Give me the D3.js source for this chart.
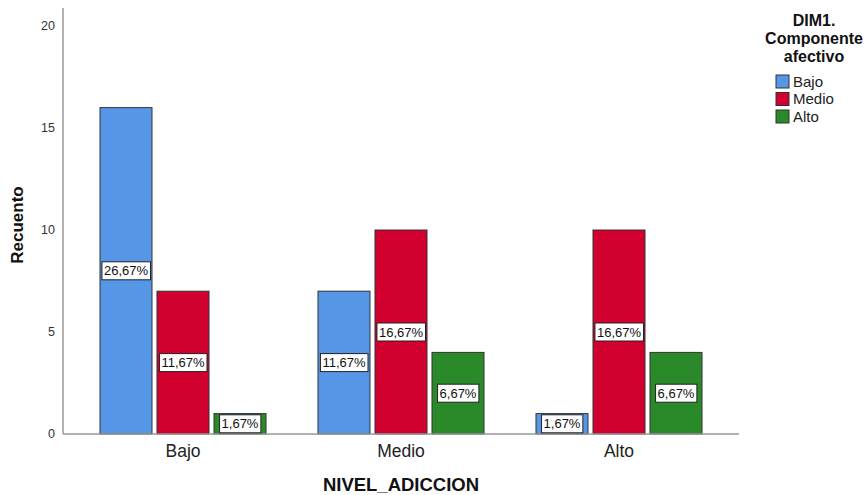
<!DOCTYPE html>
<html><head><meta charset="utf-8">
<script src="https://cdn.jsdelivr.net/npm/d3@7"></script>
<style>body{margin:0;background:#fff}svg{display:block}text{font-family:Arial,"Liberation Sans",sans-serif}</style>
</head><body>
<svg id="c" width="865" height="495"></svg>
<script>
const categories = ["Bajo", "Medio", "Alto"];
const seriesNames = ["Bajo", "Medio", "Alto"];
// one array per legend series, values across categories
const valuesBajo = [16, 7, 1];
const valuesMedio = [7, 10, 10];
const valuesAlto = [1, 4, 4];
const pctBajo = ["26,67%", "11,67%", "1,67%"];
const pctMedio = ["11,67%", "16,67%", "16,67%"];
const pctAlto = ["1,67%", "6,67%", "6,67%"];
const yTicks = [0, 5, 10, 15, 20];
const colors = ["#5596e6", "#d2002f", "#2a8a2a"];

const values = [valuesBajo, valuesMedio, valuesAlto];
const pcts = [pctBajo, pctMedio, pctAlto];

const svg = d3.select("#c");
const pLeft = 63, pRight = 739, pTop = 8, pBottom = 434;

const y = d3.scaleLinear().domain([0, 20]).range([pBottom, 26]);
const x0 = d3.scaleBand().domain(categories).range([74, 728]).paddingInner(0).paddingOuter(0);
const x1 = d3.scaleBand().domain(seriesNames).range([0, x0.bandwidth()]).paddingInner(0.0877).paddingOuter(0.456);

svg.append("line").attr("x1", pLeft).attr("x2", pLeft).attr("y1", pTop).attr("y2", pBottom)
  .attr("stroke", "#999").attr("stroke-width", 1.5);

svg.selectAll(".yt").data(yTicks).enter().append("text")
  .attr("x", 55).attr("y", d => y(d)).attr("dy", "0.35em")
  .attr("text-anchor", "end").attr("font-size", 12.5).attr("fill", "#333").text(d => d);

const data = [];
seriesNames.forEach((s, si) => categories.forEach((c, ci) => {
  data.push({c, s, si, v: values[si][ci], p: pcts[si][ci]});
}));

svg.selectAll(".bar").data(data).enter().append("rect")
  .attr("x", d => x0(d.c) + x1(d.s))
  .attr("y", d => y(d.v))
  .attr("width", x1.bandwidth())
  .attr("height", d => y(0) - y(d.v))
  .attr("fill", d => colors[d.si])
  .attr("stroke", "#333").attr("stroke-width", 1);

svg.append("line").attr("x1", pLeft).attr("x2", pRight).attr("y1", pBottom).attr("y2", pBottom)
  .attr("stroke", "#999").attr("stroke-width", 1.5);

const lab = svg.selectAll(".lab").data(data).enter().append("g")
  .attr("transform", d => `translate(${x0(d.c) + x1(d.s) + x1.bandwidth()/2},${(y(d.v) + y(0))/2})`);
lab.append("text").attr("text-anchor", "middle").attr("dy", "0.36em")
  .attr("font-size", 13).attr("fill", "#111").text(d => d.p)
  .each(function(){
    const b = this.getBBox();
    d3.select(this.parentNode).insert("rect", "text")
      .attr("x", b.x - 2).attr("y", -9).attr("width", b.width + 4).attr("height", 18)
      .attr("fill", "#fff").attr("stroke", "#222").attr("stroke-width", 1);
  });

svg.selectAll(".xt").data(categories).enter().append("text")
  .attr("x", d => x0(d) + x0.bandwidth()/2).attr("y", 457)
  .attr("text-anchor", "middle").attr("font-size", 17.5).attr("fill", "#222").text(d => d);

svg.append("text").attr("x", 401).attr("y", 491).attr("text-anchor", "middle")
  .attr("font-size", 18.5).attr("font-weight", "bold").attr("fill", "#111").text("NIVEL_ADICCION");
svg.append("text").attr("transform", "translate(23,225) rotate(-90)").attr("text-anchor", "middle")
  .attr("font-size", 17).attr("font-weight", "bold").attr("fill", "#111").text("Recuento");

const lt = ["DIM1.", "Componente", "afectivo"];
svg.selectAll(".lt").data(lt).enter().append("text")
  .attr("x", 814).attr("y", (d, i) => 26 + i * 18).attr("text-anchor", "middle")
  .attr("font-size", 16).attr("font-weight", "bold").attr("fill", "#111").text(d => d);
const lg = svg.selectAll(".lg").data(seriesNames).enter().append("g")
  .attr("transform", (d, i) => `translate(776,${75 + i * 17.5})`);
lg.append("rect").attr("width", 13).attr("height", 13).attr("fill", (d, i) => colors[i])
  .attr("stroke", "#333").attr("stroke-width", 1);
lg.append("text").attr("x", 17).attr("y", 6.5).attr("dy", "0.36em").attr("font-size", 15)
  .attr("fill", "#222").text(d => d);
</script>
</body></html>
